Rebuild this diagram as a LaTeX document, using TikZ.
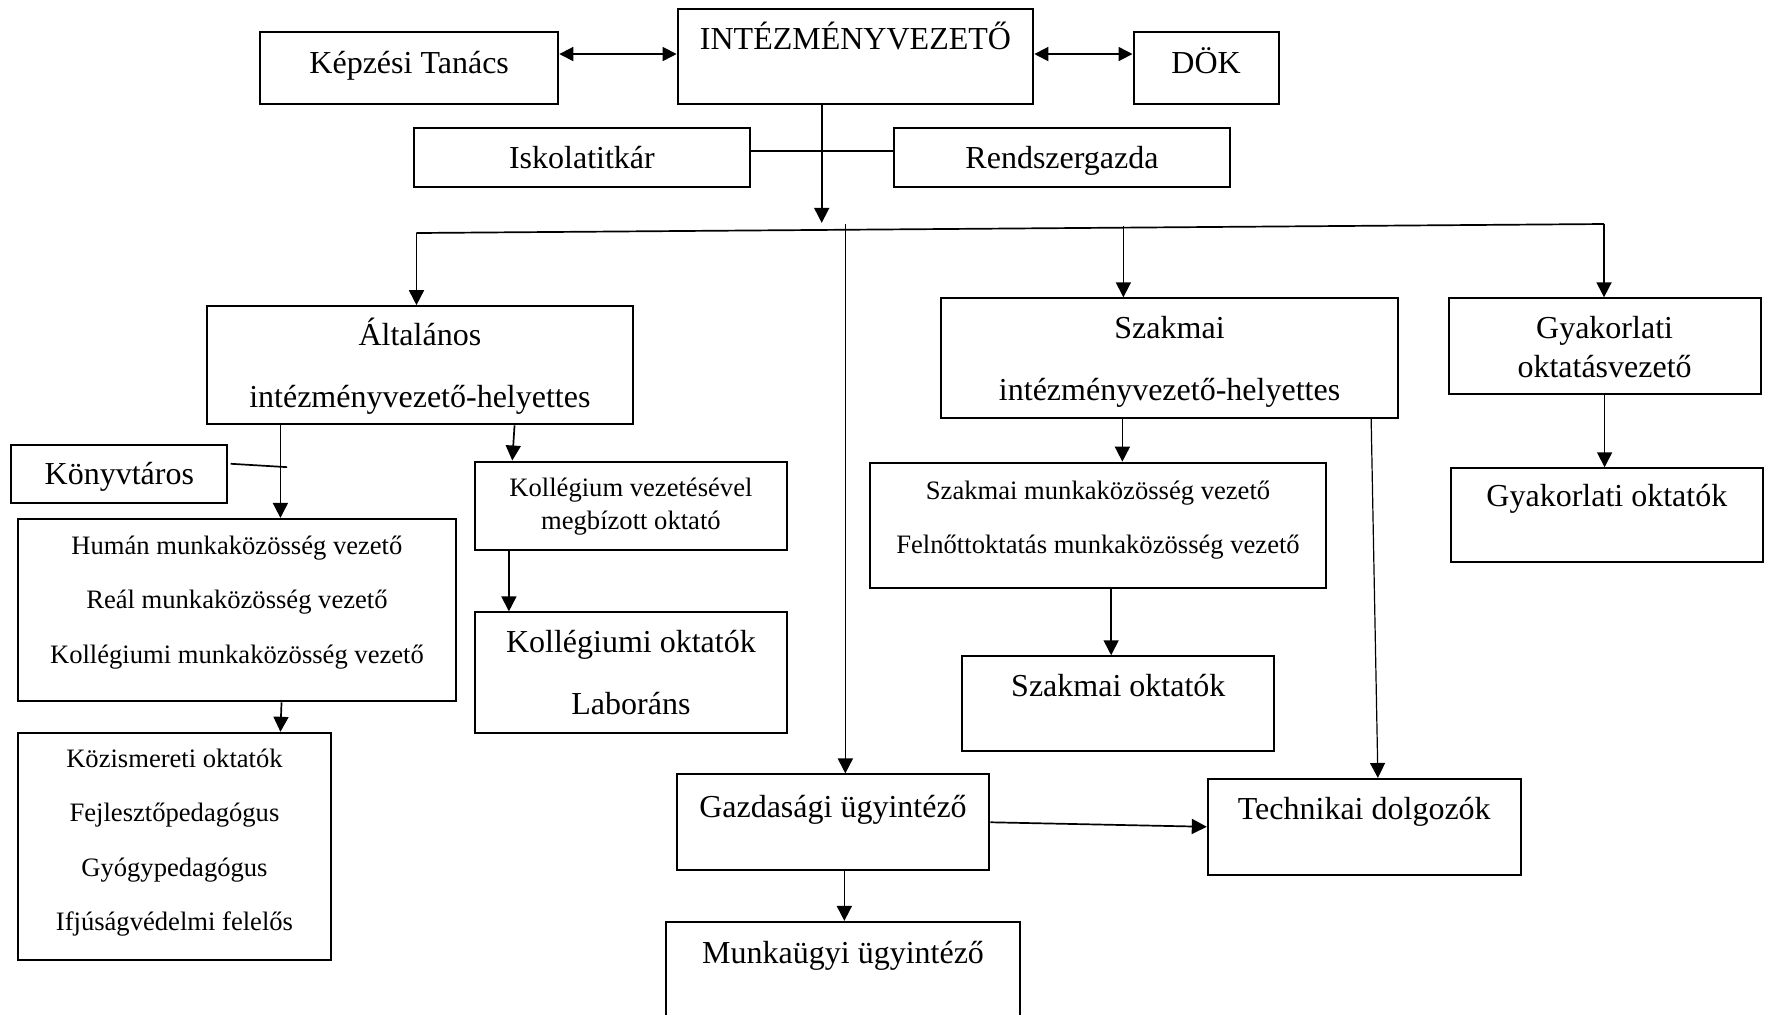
\documentclass[tikz,border=0pt]{standalone}
\usepackage{fontspec}
\setmainfont{Liberation Serif}
\usetikzlibrary{arrows.meta,calc}
\def\uu{0.562819pt}
\newcommand\mkbox[5]{\node[box, minimum width={#4*\uu}, minimum height={#5*\uu}] (#1) at (#2,#3) {};}
\begin{document}
\begin{tikzpicture}[x=0.562819pt, y=-0.562819pt,
  box/.style={draw, line width=1pt, inner sep=0pt, rectangle},
  big/.style={font=\fontsize{16}{19}\selectfont, inner sep=0pt, anchor=base},
  small/.style={font=\fontsize{13.3}{16}\selectfont, inner sep=0pt, anchor=base},
  conn/.style={line width=0.85pt},
  thin/.style={line width=0.6pt},
  arr/.style={conn, -{Triangle[length=7.5pt,width=7.5pt]}},
  thinarr/.style={thin, -{Triangle[length=7.5pt,width=7.5pt]}},
  darr/.style={conn, {Triangle[length=7pt,width=7pt]}-{Triangle[length=7pt,width=7pt]}}]
\useasboundingbox (0,0) rectangle (1568,901);

% boxes
\mkbox{int}{760}{50}{316}{84}
\mkbox{kt}{363.5}{60}{265}{64}
\mkbox{dok}{1071.5}{60}{129}{64}
\mkbox{isk}{517}{140}{298}{52}
\mkbox{rend}{943.5}{140}{299}{52}
\mkbox{alt}{373}{324.5}{378}{105}
\mkbox{szak}{1039}{318}{406}{106}
\mkbox{gyov}{1425.5}{307.5}{277}{85}
\mkbox{konyv}{106}{421}{192}{52}
\mkbox{human}{210.5}{542}{389}{162}
\mkbox{kolv}{560.5}{449.5}{277}{79}
\mkbox{kolo}{560.5}{597.5}{277}{107}
\mkbox{kozi}{155}{752}{278}{202}
\mkbox{szmk}{975.5}{466.5}{405}{111}
\mkbox{szo}{993.5}{625}{277}{84}
\mkbox{gyo}{1427.5}{457.5}{277}{83}
\mkbox{gazd}{740}{730.5}{278}{85}
\mkbox{tech}{1212}{734.5}{278}{85}
\mkbox{munka}{749}{864}{314}{90}

% texts
\node[big] (int-t) at (760,44) {INTÉZMÉNYVEZETŐ};
\node[big] (kt-t) at (363.5,65) {Képzési Tanács};
\node[big] (dok-t) at (1071.5,65) {DÖK};
\node[big] (isk-t) at (517,150) {Iskolatitkár};
\node[big] (rend-t) at (943.5,150) {Rendszergazda};
\node[big] (alt-t1) at (373,307) {Általános};
\node[big] (alt-t2) at (373,362) {intézményvezető-helyettes};
\node[big] (szak-t1) at (1039,301) {Szakmai};
\node[big] (szak-t2) at (1039,356) {intézményvezető-helyettes};
\node[big] (gyov-t1) at (1425.5,301) {Gyakorlati};
\node[big] (gyov-t2) at (1425.5,335) {oktatásvezető};
\node[big] (konyv-t) at (106,430) {Könyvtáros};
\node[small] (human-t1) at (210.5,493) {Humán munkaközösség vezető};
\node[small] (human-t2) at (210.5,541) {Reál munkaközösség vezető};
\node[small] (human-t3) at (210.5,589) {Kollégiumi munkaközösség vezető};
\node[small] (kolv-t1) at (560.5,441) {Kollégium vezetésével};
\node[small] (kolv-t2) at (560.5,470) {megbízott oktató};
\node[big] (kolo-t1) at (560.5,580) {Kollégiumi oktatók};
\node[big] (kolo-t2) at (560.5,635) {Laboráns};
\node[small] (kozi-t1) at (155,682) {Közismereti oktatók};
\node[small] (kozi-t2) at (155,730) {Fejlesztőpedagógus};
\node[small] (kozi-t3) at (155,779) {Gyógypedagógus};
\node[small] (kozi-t4) at (155,827) {Ifjúságvédelmi felelős};
\node[small] (szmk-t1) at (975.5,444) {Szakmai munkaközösség vezető};
\node[small] (szmk-t2) at (975.5,492) {Felnőttoktatás munkaközösség vezető};
\node[big] (szo-t) at (993.5,619) {Szakmai oktatók};
\node[big] (gyo-t) at (1427.5,450) {Gyakorlati oktatók};
\node[big] (gazd-t) at (740,726) {Gazdasági ügyintéző};
\node[big] (tech-t) at (1212,728) {Technikai dolgozók};
\node[big] (munka-t) at (749,856) {Munkaügyi ügyintéző};

% connectors
\draw[darr] ($(kt.east)+(0,-12)$) -- ($(int.west)+(0,-2)$);
\draw[darr] ($(int.east)+(0,-2)$) -- ($(dok.west)+(0,-12)$);
\draw[conn] ($(isk.east)+(0,-6)$) -- ($(rend.west)+(0,-6)$);

\coordinate (hArr) at (730,198);
\coordinate (hL) at (370,207);
\coordinate (hR) at (1425,199);
\coordinate (vG) at (751,199);
\coordinate (vS) at (998,201);
\draw[arr] (int.south -| hArr) -- (hArr);
\draw[conn] (hL) -- (hR);
\draw[arr] (hL) -- (hL |- alt.north);
\draw[arr] (hR) -- (hR |- gyov.north);
\draw[arr] (vG) -- (vG |- gazd.north);
\draw[arr] (vS) -- (vS |- szak.north);

\draw[arr] ($(alt.south west)+(66,0)$) -- ($(human.north west)+(234,0)$);
\coordinate (kE) at (255,415);
\draw[conn] ($(konyv.east)+(2,-9)$) -- (kE);
\draw[arr] ($(alt.south west)+(274,0)$) -- ($(kolv.north west)+(34,0)$);
\draw[arr] ($(kolv.south west)+(31,0)$) -- ($(kolo.north west)+(31,0)$);
\draw[arr] ($(human.south west)+(235,0)$) -- ($(kozi.north west)+(234,0)$);
\draw[arr] ($(szak.south west)+(162,0)$) -- ($(szmk.north west)+(225,0)$);
\draw[arr] ($(szmk.south west)+(215,0)$) -- ($(szo.north west)+(133,0)$);
\draw[thinarr] ($(szak.south west)+(383,0)$) -- ($(tech.north west)+(152,0)$);
\draw[arr] (gyov.south) -- (gyov.south |- gyo.north);
\draw[arr] (gazd.east) -- (tech.west);
\draw[arr] ($(gazd.south west)+(150,0)$) -- ($(munka.north west)+(159,0)$);
\end{tikzpicture}
\end{document}
